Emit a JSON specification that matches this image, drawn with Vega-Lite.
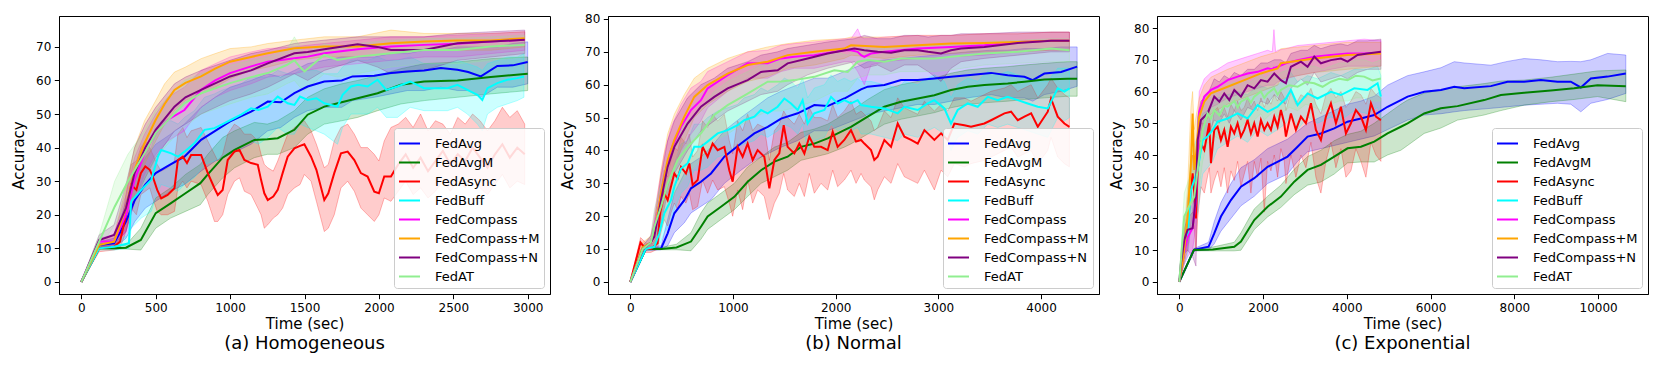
{
"$schema": "https://vega.github.io/schema/vega-lite/v6.json",
"padding": {"left": 11, "top": 12, "right": 14, "bottom": 11},
"background": "white",
"bounds": "flush",
"spacing": 58,
"datasets": {
"a": [
{"s":"FedAvg","t":0,"y":0,"l":0,"h":0},{"s":"FedAvg","t":120,"y":11,"l":10,"h":12},{"s":"FedAvg","t":220,"y":11.5,"l":10,"h":13},{"s":"FedAvg","t":300,"y":18,"l":13,"h":24},{"s":"FedAvg","t":360,"y":24.4,"l":18,"h":31},{"s":"FedAvg","t":430,"y":29,"l":22,"h":37},{"s":"FedAvg","t":500,"y":32.4,"l":24,"h":41},{"s":"FedAvg","t":600,"y":35,"l":27,"h":44},{"s":"FedAvg","t":693,"y":37.3,"l":29,"h":47},{"s":"FedAvg","t":805,"y":42.3,"l":33,"h":52},{"s":"FedAvg","t":900,"y":45,"l":36,"h":55},{"s":"FedAvg","t":1000,"y":47.8,"l":38,"h":58},{"s":"FedAvg","t":1141,"y":50.7,"l":41,"h":60},{"s":"FedAvg","t":1253,"y":53.7,"l":45,"h":62},{"s":"FedAvg","t":1340,"y":53.5,"l":46,"h":61},{"s":"FedAvg","t":1432,"y":56.2,"l":49,"h":63},{"s":"FedAvg","t":1521,"y":58.2,"l":51,"h":65},{"s":"FedAvg","t":1633,"y":59.7,"l":52,"h":66},{"s":"FedAvg","t":1750,"y":60,"l":52,"h":67},{"s":"FedAvg","t":1823,"y":61.2,"l":54,"h":67},{"s":"FedAvg","t":1969,"y":61.4,"l":55,"h":67},{"s":"FedAvg","t":2081,"y":62.2,"l":56,"h":68},{"s":"FedAvg","t":2192,"y":62.7,"l":57,"h":68},{"s":"FedAvg","t":2304,"y":63,"l":57,"h":69},{"s":"FedAvg","t":2416,"y":63.7,"l":58,"h":69},{"s":"FedAvg","t":2528,"y":63.2,"l":57,"h":70},{"s":"FedAvg","t":2600,"y":62.5,"l":57,"h":70},{"s":"FedAvg","t":2685,"y":61.2,"l":55,"h":70},{"s":"FedAvg","t":2796,"y":64.3,"l":58,"h":70},{"s":"FedAvg","t":2900,"y":64.5,"l":58,"h":71},{"s":"FedAvg","t":3000,"y":65.5,"l":59,"h":71.5},
{"s":"FedAvgM","t":0,"y":0,"l":0,"h":0},{"s":"FedAvgM","t":120,"y":10,"l":9.8,"h":10.5},{"s":"FedAvgM","t":220,"y":10,"l":9.8,"h":10.5},{"s":"FedAvgM","t":300,"y":10.2,"l":9.8,"h":11},{"s":"FedAvgM","t":400,"y":12.5,"l":9.5,"h":16},{"s":"FedAvgM","t":500,"y":20.5,"l":16,"h":25},{"s":"FedAvgM","t":600,"y":23.4,"l":19,"h":28},{"s":"FedAvgM","t":700,"y":26.4,"l":21,"h":32},{"s":"FedAvgM","t":800,"y":29.4,"l":23,"h":35},{"s":"FedAvgM","t":850,"y":32,"l":26,"h":38},{"s":"FedAvgM","t":950,"y":37,"l":31,"h":43},{"s":"FedAvgM","t":1030,"y":39.3,"l":34,"h":45},{"s":"FedAvgM","t":1163,"y":42.3,"l":37,"h":47.5},{"s":"FedAvgM","t":1250,"y":42.5,"l":38,"h":47},{"s":"FedAvgM","t":1320,"y":42.8,"l":38,"h":48},{"s":"FedAvgM","t":1432,"y":45.3,"l":40,"h":51},{"s":"FedAvgM","t":1521,"y":49.8,"l":44,"h":55},{"s":"FedAvgM","t":1633,"y":52.2,"l":47,"h":57.5},{"s":"FedAvgM","t":1750,"y":53.5,"l":48,"h":59},{"s":"FedAvgM","t":1857,"y":54.7,"l":49,"h":60},{"s":"FedAvgM","t":1991,"y":56.2,"l":51,"h":61.5},{"s":"FedAvgM","t":2148,"y":58.7,"l":53,"h":63.5},{"s":"FedAvgM","t":2304,"y":59.7,"l":54,"h":65},{"s":"FedAvgM","t":2528,"y":60,"l":55,"h":65.5},{"s":"FedAvgM","t":2752,"y":61,"l":56,"h":66.5},{"s":"FedAvgM","t":3000,"y":62,"l":57,"h":67},
{"s":"FedAsync","t":0,"y":0,"l":0,"h":0},{"s":"FedAsync","t":120,"y":10,"l":9,"h":11},{"s":"FedAsync","t":220,"y":10.5,"l":9.5,"h":12},{"s":"FedAsync","t":260,"y":12,"l":10,"h":14},{"s":"FedAsync","t":300,"y":20,"l":15,"h":26},{"s":"FedAsync","t":335,"y":28.9,"l":22,"h":35},{"s":"FedAsync","t":370,"y":27.4,"l":20,"h":36},{"s":"FedAsync","t":400,"y":32.4,"l":26,"h":40},{"s":"FedAsync","t":430,"y":34.4,"l":27,"h":42},{"s":"FedAsync","t":460,"y":33.4,"l":28,"h":40},{"s":"FedAsync","t":480,"y":31.4,"l":25,"h":38},{"s":"FedAsync","t":510,"y":27.4,"l":21,"h":35},{"s":"FedAsync","t":537,"y":24.9,"l":20,"h":33},{"s":"FedAsync","t":580,"y":25.9,"l":20,"h":34},{"s":"FedAsync","t":626,"y":27.9,"l":21,"h":36},{"s":"FedAsync","t":649,"y":36.3,"l":28,"h":44},{"s":"FedAsync","t":682,"y":37.3,"l":30,"h":46},{"s":"FedAsync","t":710,"y":35.4,"l":28,"h":43},{"s":"FedAsync","t":738,"y":37.8,"l":30,"h":45},{"s":"FedAsync","t":805,"y":37.8,"l":29,"h":46},{"s":"FedAsync","t":850,"y":32.4,"l":24,"h":42},{"s":"FedAsync","t":895,"y":27.9,"l":18,"h":38},{"s":"FedAsync","t":917,"y":25.9,"l":18,"h":36},{"s":"FedAsync","t":950,"y":27.4,"l":20,"h":38},{"s":"FedAsync","t":984,"y":36.3,"l":26,"h":44},{"s":"FedAsync","t":1029,"y":38.8,"l":30,"h":47},{"s":"FedAsync","t":1063,"y":39.3,"l":31,"h":46},{"s":"FedAsync","t":1096,"y":36.3,"l":27,"h":44},{"s":"FedAsync","t":1141,"y":35.4,"l":26,"h":44},{"s":"FedAsync","t":1186,"y":34.9,"l":22,"h":42},{"s":"FedAsync","t":1208,"y":30.4,"l":20,"h":38},{"s":"FedAsync","t":1230,"y":26.4,"l":16,"h":35},{"s":"FedAsync","t":1253,"y":24.4,"l":17,"h":34},{"s":"FedAsync","t":1290,"y":25.4,"l":19,"h":33},{"s":"FedAsync","t":1320,"y":27.4,"l":20,"h":36},{"s":"FedAsync","t":1353,"y":32.4,"l":22,"h":40},{"s":"FedAsync","t":1387,"y":37.3,"l":26,"h":44},{"s":"FedAsync","t":1432,"y":39.8,"l":28,"h":46},{"s":"FedAsync","t":1470,"y":40.5,"l":29,"h":47},{"s":"FedAsync","t":1499,"y":41,"l":32,"h":48},{"s":"FedAsync","t":1544,"y":37.3,"l":30,"h":45},{"s":"FedAsync","t":1580,"y":33.4,"l":24,"h":41},{"s":"FedAsync","t":1633,"y":24.4,"l":15,"h":34},{"s":"FedAsync","t":1660,"y":26.4,"l":16,"h":35},{"s":"FedAsync","t":1700,"y":32.4,"l":20,"h":42},{"s":"FedAsync","t":1745,"y":38.3,"l":28,"h":46},{"s":"FedAsync","t":1790,"y":38.8,"l":30,"h":47},{"s":"FedAsync","t":1835,"y":36.3,"l":27,"h":44},{"s":"FedAsync","t":1879,"y":32.4,"l":22,"h":40},{"s":"FedAsync","t":1924,"y":31.4,"l":20,"h":40},{"s":"FedAsync","t":1969,"y":26.9,"l":18,"h":38},{"s":"FedAsync","t":2000,"y":26.4,"l":20,"h":36},{"s":"FedAsync","t":2036,"y":31.4,"l":25,"h":42},{"s":"FedAsync","t":2081,"y":31.4,"l":24,"h":46},{"s":"FedAsync","t":2130,"y":35,"l":27,"h":47},{"s":"FedAsync","t":2180,"y":38,"l":30,"h":49},{"s":"FedAsync","t":2230,"y":34,"l":26,"h":46},{"s":"FedAsync","t":2280,"y":37,"l":28,"h":50},{"s":"FedAsync","t":2330,"y":33,"l":25,"h":45},{"s":"FedAsync","t":2380,"y":36,"l":27,"h":48},{"s":"FedAsync","t":2430,"y":39,"l":30,"h":47},{"s":"FedAsync","t":2480,"y":35,"l":27,"h":44},{"s":"FedAsync","t":2530,"y":38,"l":30,"h":49},{"s":"FedAsync","t":2580,"y":36,"l":28,"h":47},{"s":"FedAsync","t":2630,"y":40,"l":31,"h":50},{"s":"FedAsync","t":2680,"y":37,"l":28,"h":48},{"s":"FedAsync","t":2730,"y":34,"l":26,"h":45},{"s":"FedAsync","t":2780,"y":38,"l":29,"h":48},{"s":"FedAsync","t":2830,"y":41,"l":32,"h":52},{"s":"FedAsync","t":2880,"y":37,"l":28,"h":49},{"s":"FedAsync","t":2930,"y":40,"l":30,"h":51},{"s":"FedAsync","t":2980,"y":38,"l":29,"h":47},
{"s":"FedBuff","t":0,"y":0,"l":0,"h":0},{"s":"FedBuff","t":120,"y":10,"l":9.5,"h":11},{"s":"FedBuff","t":220,"y":10.5,"l":9.5,"h":12},{"s":"FedBuff","t":320,"y":11.5,"l":10,"h":14},{"s":"FedBuff","t":335,"y":24,"l":16,"h":31},{"s":"FedBuff","t":403,"y":27.4,"l":19,"h":37},{"s":"FedBuff","t":470,"y":30.4,"l":21,"h":40},{"s":"FedBuff","t":515,"y":37.3,"l":27,"h":46},{"s":"FedBuff","t":537,"y":39.3,"l":29,"h":48},{"s":"FedBuff","t":604,"y":38.3,"l":28,"h":48},{"s":"FedBuff","t":650,"y":37.3,"l":27,"h":47},{"s":"FedBuff","t":693,"y":38.8,"l":29,"h":49},{"s":"FedBuff","t":760,"y":41.3,"l":31,"h":51},{"s":"FedBuff","t":828,"y":45.3,"l":35,"h":55},{"s":"FedBuff","t":895,"y":45.8,"l":36,"h":56},{"s":"FedBuff","t":940,"y":46.8,"l":37,"h":57},{"s":"FedBuff","t":1007,"y":48.3,"l":39,"h":58},{"s":"FedBuff","t":1074,"y":49.8,"l":40,"h":59},{"s":"FedBuff","t":1141,"y":51.7,"l":42,"h":61},{"s":"FedBuff","t":1190,"y":51.2,"l":41,"h":61},{"s":"FedBuff","t":1253,"y":52.2,"l":43,"h":61},{"s":"FedBuff","t":1320,"y":55.2,"l":46,"h":63},{"s":"FedBuff","t":1387,"y":53.2,"l":44,"h":62},{"s":"FedBuff","t":1432,"y":52.7,"l":44,"h":62},{"s":"FedBuff","t":1470,"y":55.2,"l":47,"h":63},{"s":"FedBuff","t":1521,"y":54.2,"l":46,"h":63},{"s":"FedBuff","t":1580,"y":54.7,"l":45,"h":63},{"s":"FedBuff","t":1633,"y":53.2,"l":44,"h":62},{"s":"FedBuff","t":1722,"y":52.2,"l":41,"h":62},{"s":"FedBuff","t":1756,"y":55.7,"l":46,"h":64},{"s":"FedBuff","t":1812,"y":58.2,"l":50,"h":66},{"s":"FedBuff","t":1860,"y":58.7,"l":50,"h":66},{"s":"FedBuff","t":1924,"y":58.2,"l":50,"h":66},{"s":"FedBuff","t":1991,"y":60.2,"l":52,"h":67},{"s":"FedBuff","t":2050,"y":57.2,"l":49,"h":66},{"s":"FedBuff","t":2125,"y":58.2,"l":49,"h":66},{"s":"FedBuff","t":2210,"y":59.7,"l":52,"h":67},{"s":"FedBuff","t":2304,"y":57.7,"l":51,"h":65},{"s":"FedBuff","t":2370,"y":57.7,"l":51,"h":65},{"s":"FedBuff","t":2461,"y":57.7,"l":51,"h":65},{"s":"FedBuff","t":2528,"y":58.7,"l":52,"h":66},{"s":"FedBuff","t":2595,"y":57.2,"l":50,"h":65},{"s":"FedBuff","t":2662,"y":55.7,"l":47,"h":64},{"s":"FedBuff","t":2695,"y":54.2,"l":45,"h":63},{"s":"FedBuff","t":2730,"y":57.7,"l":50,"h":65},{"s":"FedBuff","t":2796,"y":59.2,"l":52,"h":66},{"s":"FedBuff","t":2863,"y":60.2,"l":53,"h":67},{"s":"FedBuff","t":2930,"y":60.7,"l":54,"h":67},{"s":"FedBuff","t":2975,"y":61.2,"l":55,"h":68},
{"s":"FedCompass","t":0,"y":0,"l":0,"h":0},{"s":"FedCompass","t":120,"y":12,"l":10,"h":13},{"s":"FedCompass","t":220,"y":12,"l":10.5,"h":14},{"s":"FedCompass","t":300,"y":20,"l":15,"h":26},{"s":"FedCompass","t":358,"y":30.4,"l":24,"h":37},{"s":"FedCompass","t":425,"y":38.3,"l":32,"h":44},{"s":"FedCompass","t":500,"y":44.3,"l":38,"h":50},{"s":"FedCompass","t":582,"y":48.3,"l":42,"h":55},{"s":"FedCompass","t":693,"y":51.2,"l":45,"h":58},{"s":"FedCompass","t":805,"y":57.2,"l":52,"h":63},{"s":"FedCompass","t":900,"y":60,"l":55,"h":65},{"s":"FedCompass","t":1000,"y":62.2,"l":57,"h":67},{"s":"FedCompass","t":1141,"y":64.2,"l":59,"h":68.5},{"s":"FedCompass","t":1253,"y":65.6,"l":61,"h":69.5},{"s":"FedCompass","t":1432,"y":66.6,"l":62,"h":70},{"s":"FedCompass","t":1521,"y":67.1,"l":63,"h":70.5},{"s":"FedCompass","t":1633,"y":68.1,"l":64,"h":71},{"s":"FedCompass","t":1857,"y":69.3,"l":65,"h":72},{"s":"FedCompass","t":2081,"y":70.1,"l":66,"h":73},{"s":"FedCompass","t":2304,"y":70.6,"l":67,"h":73},{"s":"FedCompass","t":2528,"y":70.9,"l":67,"h":73.5},{"s":"FedCompass","t":2752,"y":71.6,"l":68,"h":74},{"s":"FedCompass","t":2980,"y":72.1,"l":69,"h":74.5},
{"s":"FedCompass+M","t":0,"y":0,"l":0,"h":0},{"s":"FedCompass+M","t":120,"y":11,"l":10,"h":12.5},{"s":"FedCompass+M","t":220,"y":12,"l":10.5,"h":14},{"s":"FedCompass+M","t":300,"y":22,"l":16,"h":28},{"s":"FedCompass+M","t":358,"y":33.4,"l":26,"h":40},{"s":"FedCompass+M","t":425,"y":41.3,"l":35,"h":48},{"s":"FedCompass+M","t":500,"y":48.3,"l":42,"h":54},{"s":"FedCompass+M","t":560,"y":53,"l":47,"h":59},{"s":"FedCompass+M","t":626,"y":57.2,"l":51,"h":62.5},{"s":"FedCompass+M","t":700,"y":59.3,"l":54,"h":64},{"s":"FedCompass+M","t":805,"y":61.2,"l":56,"h":66.5},{"s":"FedCompass+M","t":900,"y":63.5,"l":58,"h":68},{"s":"FedCompass+M","t":1000,"y":65.6,"l":60.5,"h":69.5},{"s":"FedCompass+M","t":1141,"y":67,"l":63,"h":70},{"s":"FedCompass+M","t":1253,"y":68.1,"l":64,"h":71},{"s":"FedCompass+M","t":1432,"y":69.6,"l":66,"h":72},{"s":"FedCompass+M","t":1633,"y":70.1,"l":67,"h":73},{"s":"FedCompass+M","t":1857,"y":70.1,"l":67,"h":73},{"s":"FedCompass+M","t":2081,"y":71.1,"l":68,"h":75},{"s":"FedCompass+M","t":2304,"y":71.6,"l":69,"h":74},{"s":"FedCompass+M","t":2528,"y":71.9,"l":69,"h":74},{"s":"FedCompass+M","t":2752,"y":71.9,"l":69,"h":74},{"s":"FedCompass+M","t":2980,"y":72.6,"l":70,"h":74.5},
{"s":"FedCompass+N","t":0,"y":0,"l":0,"h":0},{"s":"FedCompass+N","t":120,"y":12.5,"l":10.5,"h":14},{"s":"FedCompass+N","t":220,"y":14,"l":11,"h":17},{"s":"FedCompass+N","t":300,"y":22,"l":15,"h":29},{"s":"FedCompass+N","t":358,"y":32.4,"l":24,"h":40},{"s":"FedCompass+N","t":430,"y":40,"l":31,"h":47},{"s":"FedCompass+N","t":500,"y":45.3,"l":37,"h":52},{"s":"FedCompass+N","t":626,"y":52.2,"l":45,"h":59},{"s":"FedCompass+N","t":700,"y":55,"l":47,"h":61},{"s":"FedCompass+N","t":805,"y":57.2,"l":50,"h":63},{"s":"FedCompass+N","t":1000,"y":61.2,"l":54,"h":66},{"s":"FedCompass+N","t":1141,"y":63,"l":56,"h":68},{"s":"FedCompass+N","t":1253,"y":65.1,"l":58,"h":69},{"s":"FedCompass+N","t":1432,"y":68.1,"l":62,"h":71},{"s":"FedCompass+N","t":1521,"y":68.5,"l":60,"h":71.5},{"s":"FedCompass+N","t":1633,"y":69.3,"l":63,"h":72},{"s":"FedCompass+N","t":1857,"y":70.8,"l":66,"h":73},{"s":"FedCompass+N","t":1990,"y":70,"l":64,"h":73},{"s":"FedCompass+N","t":2081,"y":69.1,"l":62,"h":73},{"s":"FedCompass+N","t":2304,"y":69.1,"l":63,"h":73},{"s":"FedCompass+N","t":2528,"y":71.1,"l":66,"h":74},{"s":"FedCompass+N","t":2752,"y":71.6,"l":67,"h":74.5},{"s":"FedCompass+N","t":2980,"y":72.1,"l":68,"h":75},
{"s":"FedAT","t":0,"y":0,"l":0,"h":0},{"s":"FedAT","t":120,"y":12,"l":10,"h":14},{"s":"FedAT","t":224,"y":22.4,"l":17,"h":30},{"s":"FedAT","t":313,"y":29.9,"l":22,"h":38},{"s":"FedAT","t":425,"y":38.3,"l":30,"h":45},{"s":"FedAT","t":500,"y":44.3,"l":37,"h":51},{"s":"FedAT","t":600,"y":49,"l":42,"h":56},{"s":"FedAT","t":693,"y":53.2,"l":46,"h":60},{"s":"FedAT","t":805,"y":56.2,"l":50,"h":62},{"s":"FedAT","t":1000,"y":59.2,"l":53,"h":64.5},{"s":"FedAT","t":1141,"y":61,"l":55,"h":66},{"s":"FedAT","t":1253,"y":62.2,"l":56,"h":67},{"s":"FedAT","t":1380,"y":64.6,"l":59,"h":69},{"s":"FedAT","t":1432,"y":66,"l":60,"h":73},{"s":"FedAT","t":1470,"y":64,"l":58,"h":70},{"s":"FedAT","t":1500,"y":62.7,"l":57,"h":68},{"s":"FedAT","t":1633,"y":67.6,"l":62,"h":71},{"s":"FedAT","t":1722,"y":66.1,"l":61,"h":70},{"s":"FedAT","t":1857,"y":67.1,"l":62,"h":71},{"s":"FedAT","t":2081,"y":68.1,"l":64,"h":72},{"s":"FedAT","t":2304,"y":69.1,"l":65,"h":72.5},{"s":"FedAT","t":2528,"y":69.1,"l":65,"h":72.5},{"s":"FedAT","t":2752,"y":70.1,"l":66,"h":73},{"s":"FedAT","t":2980,"y":70.6,"l":67,"h":73.5}
],
"b": [
{"s":"FedAvg","t":0,"y":0,"l":0,"h":0},{"s":"FedAvg","t":150,"y":10,"l":9.5,"h":10.5},{"s":"FedAvg","t":300,"y":10.2,"l":9.8,"h":11},{"s":"FedAvg","t":364,"y":14.8,"l":11,"h":19},{"s":"FedAvg","t":429,"y":20.9,"l":15,"h":27},{"s":"FedAvg","t":526,"y":24.9,"l":18,"h":33},{"s":"FedAvg","t":591,"y":28.5,"l":21,"h":36},{"s":"FedAvg","t":688,"y":30.5,"l":23,"h":38},{"s":"FedAvg","t":786,"y":33,"l":25,"h":41},{"s":"FedAvg","t":916,"y":38.1,"l":30,"h":46},{"s":"FedAvg","t":1078,"y":42.1,"l":34,"h":50},{"s":"FedAvg","t":1208,"y":45.2,"l":37,"h":53},{"s":"FedAvg","t":1338,"y":47.2,"l":39,"h":56},{"s":"FedAvg","t":1468,"y":49.7,"l":41,"h":58},{"s":"FedAvg","t":1630,"y":51.3,"l":43,"h":60},{"s":"FedAvg","t":1792,"y":53.8,"l":46,"h":62},{"s":"FedAvg","t":1922,"y":53.5,"l":46,"h":62},{"s":"FedAvg","t":2084,"y":55.8,"l":48,"h":64},{"s":"FedAvg","t":2247,"y":58.6,"l":50,"h":66},{"s":"FedAvg","t":2312,"y":59.4,"l":51,"h":67},{"s":"FedAvg","t":2474,"y":59.9,"l":52,"h":67.5},{"s":"FedAvg","t":2636,"y":61.4,"l":53,"h":68},{"s":"FedAvg","t":2799,"y":61.4,"l":54,"h":68.5},{"s":"FedAvg","t":2961,"y":61.9,"l":54,"h":69},{"s":"FedAvg","t":3123,"y":62.4,"l":55,"h":69.5},{"s":"FedAvg","t":3286,"y":62.9,"l":56,"h":70},{"s":"FedAvg","t":3513,"y":63.6,"l":57,"h":70.5},{"s":"FedAvg","t":3675,"y":62.9,"l":56,"h":70.5},{"s":"FedAvg","t":3838,"y":62.4,"l":56,"h":71},{"s":"FedAvg","t":3919,"y":61.4,"l":55,"h":71},{"s":"FedAvg","t":4032,"y":63.4,"l":57,"h":71},{"s":"FedAvg","t":4195,"y":63.9,"l":58,"h":71.5},{"s":"FedAvg","t":4351,"y":65.5,"l":59.5,"h":71.5},
{"s":"FedAvgM","t":0,"y":0,"l":0,"h":0},{"s":"FedAvgM","t":150,"y":10,"l":9.8,"h":10.5},{"s":"FedAvgM","t":300,"y":10,"l":9.8,"h":10.5},{"s":"FedAvgM","t":450,"y":10.5,"l":9.8,"h":11.5},{"s":"FedAvgM","t":591,"y":12.3,"l":9.5,"h":15},{"s":"FedAvgM","t":688,"y":16.8,"l":13,"h":21},{"s":"FedAvgM","t":753,"y":19.9,"l":16,"h":24},{"s":"FedAvgM","t":883,"y":22.9,"l":19,"h":27},{"s":"FedAvgM","t":1013,"y":25.9,"l":22,"h":30},{"s":"FedAvgM","t":1143,"y":30.5,"l":26,"h":35},{"s":"FedAvgM","t":1273,"y":34,"l":30,"h":38},{"s":"FedAvgM","t":1403,"y":36.6,"l":32,"h":41},{"s":"FedAvgM","t":1532,"y":38.1,"l":34,"h":42.5},{"s":"FedAvgM","t":1662,"y":41.1,"l":37,"h":45.5},{"s":"FedAvgM","t":1792,"y":42.1,"l":38,"h":46.5},{"s":"FedAvgM","t":1922,"y":43.7,"l":39,"h":48},{"s":"FedAvgM","t":2084,"y":46.2,"l":41,"h":51},{"s":"FedAvgM","t":2149,"y":47.2,"l":42,"h":52},{"s":"FedAvgM","t":2312,"y":50.3,"l":45,"h":55.5},{"s":"FedAvgM","t":2474,"y":53.3,"l":48,"h":58.5},{"s":"FedAvgM","t":2636,"y":54.8,"l":49.5,"h":60},{"s":"FedAvgM","t":2799,"y":55.8,"l":50.5,"h":61},{"s":"FedAvgM","t":2961,"y":56.8,"l":51.5,"h":62},{"s":"FedAvgM","t":3123,"y":58.4,"l":53,"h":63.5},{"s":"FedAvgM","t":3286,"y":59.4,"l":54,"h":64.5},{"s":"FedAvgM","t":3448,"y":59.9,"l":54.5,"h":65},{"s":"FedAvgM","t":3675,"y":60.4,"l":55,"h":65.5},{"s":"FedAvgM","t":3838,"y":60.9,"l":55.5,"h":66},{"s":"FedAvgM","t":4032,"y":61.6,"l":56,"h":66.5},{"s":"FedAvgM","t":4260,"y":61.8,"l":56.5,"h":67},{"s":"FedAvgM","t":4351,"y":61.8,"l":56.5,"h":67},
{"s":"FedAsync","t":0,"y":0,"l":0,"h":0},{"s":"FedAsync","t":100,"y":12,"l":10,"h":13.5},{"s":"FedAsync","t":150,"y":10,"l":9,"h":12},{"s":"FedAsync","t":200,"y":10,"l":9,"h":11},{"s":"FedAsync","t":266,"y":11.8,"l":10,"h":14},{"s":"FedAsync","t":290,"y":20.9,"l":14,"h":27},{"s":"FedAsync","t":331,"y":27,"l":19,"h":34},{"s":"FedAsync","t":364,"y":24.9,"l":17,"h":32},{"s":"FedAsync","t":396,"y":29,"l":21,"h":37},{"s":"FedAsync","t":429,"y":33,"l":24,"h":41},{"s":"FedAsync","t":461,"y":31.5,"l":22,"h":40},{"s":"FedAsync","t":494,"y":35,"l":26,"h":44},{"s":"FedAsync","t":542,"y":33,"l":24,"h":42},{"s":"FedAsync","t":575,"y":36.1,"l":27,"h":45},{"s":"FedAsync","t":607,"y":29.5,"l":22,"h":38},{"s":"FedAsync","t":656,"y":31,"l":23,"h":40},{"s":"FedAsync","t":704,"y":41.1,"l":31,"h":49},{"s":"FedAsync","t":753,"y":38.1,"l":27,"h":47},{"s":"FedAsync","t":802,"y":42.1,"l":31,"h":51},{"s":"FedAsync","t":851,"y":40.1,"l":28,"h":49},{"s":"FedAsync","t":916,"y":41.1,"l":29,"h":51},{"s":"FedAsync","t":964,"y":34,"l":24,"h":43},{"s":"FedAsync","t":997,"y":30.5,"l":20,"h":39},{"s":"FedAsync","t":1045,"y":41.1,"l":28,"h":49},{"s":"FedAsync","t":1094,"y":38.1,"l":22,"h":46},{"s":"FedAsync","t":1143,"y":42.1,"l":31,"h":51},{"s":"FedAsync","t":1192,"y":37.1,"l":24,"h":46},{"s":"FedAsync","t":1240,"y":40.1,"l":28,"h":48},{"s":"FedAsync","t":1305,"y":38.1,"l":26,"h":47},{"s":"FedAsync","t":1354,"y":28.5,"l":19,"h":37},{"s":"FedAsync","t":1403,"y":37.1,"l":24,"h":46},{"s":"FedAsync","t":1451,"y":39.1,"l":27,"h":48},{"s":"FedAsync","t":1494,"y":47.7,"l":33,"h":52},{"s":"FedAsync","t":1532,"y":41.1,"l":28,"h":50},{"s":"FedAsync","t":1597,"y":39.1,"l":26,"h":48},{"s":"FedAsync","t":1646,"y":42.1,"l":30,"h":51},{"s":"FedAsync","t":1695,"y":39.1,"l":26,"h":48},{"s":"FedAsync","t":1743,"y":44.2,"l":33,"h":53},{"s":"FedAsync","t":1792,"y":41.1,"l":27,"h":50},{"s":"FedAsync","t":1857,"y":41.1,"l":30,"h":50},{"s":"FedAsync","t":1922,"y":40.1,"l":28,"h":49},{"s":"FedAsync","t":1971,"y":45.7,"l":34,"h":54},{"s":"FedAsync","t":2019,"y":41.1,"l":29,"h":50},{"s":"FedAsync","t":2084,"y":43.2,"l":31,"h":52},{"s":"FedAsync","t":2149,"y":46.2,"l":34,"h":55},{"s":"FedAsync","t":2198,"y":42.7,"l":30,"h":51},{"s":"FedAsync","t":2247,"y":43.2,"l":33,"h":52},{"s":"FedAsync","t":2279,"y":42.1,"l":31,"h":51},{"s":"FedAsync","t":2344,"y":40.1,"l":29,"h":49},{"s":"FedAsync","t":2376,"y":37.1,"l":25,"h":46},{"s":"FedAsync","t":2409,"y":38.1,"l":28,"h":47},{"s":"FedAsync","t":2474,"y":43.2,"l":32,"h":52},{"s":"FedAsync","t":2539,"y":41.1,"l":30,"h":50},{"s":"FedAsync","t":2604,"y":48.2,"l":36,"h":56},{"s":"FedAsync","t":2669,"y":44.2,"l":32,"h":53},{"s":"FedAsync","t":2734,"y":43.2,"l":31,"h":52},{"s":"FedAsync","t":2799,"y":42.1,"l":30,"h":51},{"s":"FedAsync","t":2864,"y":46.2,"l":34,"h":55},{"s":"FedAsync","t":2961,"y":43.2,"l":28,"h":52},{"s":"FedAsync","t":3026,"y":45.2,"l":34,"h":54},{"s":"FedAsync","t":3091,"y":43.2,"l":32,"h":52},{"s":"FedAsync","t":3156,"y":48.2,"l":36,"h":56},{"s":"FedAsync","t":3253,"y":47.7,"l":35,"h":56},{"s":"FedAsync","t":3318,"y":47.2,"l":36,"h":55},{"s":"FedAsync","t":3448,"y":48.2,"l":37,"h":57},{"s":"FedAsync","t":3513,"y":49.2,"l":38,"h":58},{"s":"FedAsync","t":3643,"y":51.3,"l":40,"h":59},{"s":"FedAsync","t":3708,"y":51.8,"l":41,"h":60},{"s":"FedAsync","t":3773,"y":49.2,"l":38,"h":58},{"s":"FedAsync","t":3838,"y":50.3,"l":39,"h":59},{"s":"FedAsync","t":3903,"y":51.3,"l":40,"h":60},{"s":"FedAsync","t":3968,"y":47.2,"l":36,"h":56},{"s":"FedAsync","t":4065,"y":51.8,"l":40,"h":60},{"s":"FedAsync","t":4097,"y":55.8,"l":44,"h":62},{"s":"FedAsync","t":4162,"y":50.3,"l":38,"h":59},{"s":"FedAsync","t":4227,"y":48.2,"l":36,"h":57},{"s":"FedAsync","t":4276,"y":47.2,"l":35,"h":56},
{"s":"FedBuff","t":0,"y":0,"l":0,"h":0},{"s":"FedBuff","t":150,"y":10,"l":9.5,"h":10.5},{"s":"FedBuff","t":234,"y":10.7,"l":9.8,"h":12},{"s":"FedBuff","t":282,"y":14.8,"l":11,"h":19},{"s":"FedBuff","t":331,"y":20.9,"l":15,"h":27},{"s":"FedBuff","t":396,"y":24.9,"l":18,"h":32},{"s":"FedBuff","t":429,"y":29,"l":22,"h":36},{"s":"FedBuff","t":494,"y":34.5,"l":27,"h":42},{"s":"FedBuff","t":558,"y":36.1,"l":29,"h":43},{"s":"FedBuff","t":623,"y":41.1,"l":34,"h":48},{"s":"FedBuff","t":688,"y":41.1,"l":34,"h":48},{"s":"FedBuff","t":753,"y":42.7,"l":35,"h":50},{"s":"FedBuff","t":851,"y":45.2,"l":38,"h":52},{"s":"FedBuff","t":948,"y":46.2,"l":39,"h":53},{"s":"FedBuff","t":1045,"y":47.7,"l":41,"h":54},{"s":"FedBuff","t":1110,"y":49.2,"l":42,"h":56},{"s":"FedBuff","t":1208,"y":50.3,"l":43,"h":57},{"s":"FedBuff","t":1273,"y":52.3,"l":45,"h":59},{"s":"FedBuff","t":1338,"y":51.3,"l":44,"h":58},{"s":"FedBuff","t":1435,"y":53.3,"l":46,"h":60},{"s":"FedBuff","t":1500,"y":55.8,"l":48,"h":62},{"s":"FedBuff","t":1565,"y":54.3,"l":47,"h":61},{"s":"FedBuff","t":1630,"y":52.3,"l":45,"h":59},{"s":"FedBuff","t":1678,"y":55.3,"l":48,"h":62},{"s":"FedBuff","t":1727,"y":48.2,"l":40,"h":56},{"s":"FedBuff","t":1792,"y":51.3,"l":43,"h":59},{"s":"FedBuff","t":1890,"y":52.3,"l":44,"h":60},{"s":"FedBuff","t":1955,"y":56.3,"l":48,"h":63},{"s":"FedBuff","t":2019,"y":54.3,"l":46,"h":61},{"s":"FedBuff","t":2084,"y":55.3,"l":47,"h":62},{"s":"FedBuff","t":2149,"y":54.3,"l":46,"h":61},{"s":"FedBuff","t":2214,"y":55.3,"l":47,"h":62},{"s":"FedBuff","t":2247,"y":53.8,"l":45,"h":61},{"s":"FedBuff","t":2344,"y":53.3,"l":45,"h":61},{"s":"FedBuff","t":2474,"y":52.8,"l":44,"h":60},{"s":"FedBuff","t":2604,"y":51.3,"l":43,"h":59},{"s":"FedBuff","t":2669,"y":53.3,"l":45,"h":61},{"s":"FedBuff","t":2799,"y":52.3,"l":44,"h":60},{"s":"FedBuff","t":2896,"y":54.3,"l":46,"h":62},{"s":"FedBuff","t":2961,"y":55.3,"l":47,"h":63},{"s":"FedBuff","t":3058,"y":52.8,"l":45,"h":61},{"s":"FedBuff","t":3123,"y":48.2,"l":40,"h":56},{"s":"FedBuff","t":3188,"y":52.3,"l":44,"h":60},{"s":"FedBuff","t":3286,"y":54.3,"l":46,"h":62},{"s":"FedBuff","t":3383,"y":53.3,"l":45,"h":61},{"s":"FedBuff","t":3481,"y":56.3,"l":48,"h":64},{"s":"FedBuff","t":3578,"y":55.3,"l":47,"h":63},{"s":"FedBuff","t":3675,"y":56.3,"l":48,"h":64},{"s":"FedBuff","t":3773,"y":55.3,"l":47,"h":63},{"s":"FedBuff","t":3870,"y":54.3,"l":46,"h":62},{"s":"FedBuff","t":3968,"y":53.3,"l":45,"h":61},{"s":"FedBuff","t":4065,"y":52.8,"l":44,"h":61},{"s":"FedBuff","t":4162,"y":58.9,"l":50,"h":65},{"s":"FedBuff","t":4227,"y":57.9,"l":49,"h":65},{"s":"FedBuff","t":4276,"y":58.9,"l":50,"h":65},
{"s":"FedCompass","t":0,"y":0,"l":0,"h":0},{"s":"FedCompass","t":120,"y":10,"l":9.5,"h":11},{"s":"FedCompass","t":200,"y":12,"l":10,"h":14},{"s":"FedCompass","t":266,"y":20.9,"l":15,"h":27},{"s":"FedCompass","t":331,"y":32,"l":25,"h":39},{"s":"FedCompass","t":396,"y":40.1,"l":33,"h":47},{"s":"FedCompass","t":494,"y":47.2,"l":40,"h":54},{"s":"FedCompass","t":591,"y":52.3,"l":45,"h":59},{"s":"FedCompass","t":688,"y":55.3,"l":49,"h":61},{"s":"FedCompass","t":753,"y":58.9,"l":53,"h":64},{"s":"FedCompass","t":948,"y":62.9,"l":58,"h":67},{"s":"FedCompass","t":1143,"y":66.5,"l":62,"h":70},{"s":"FedCompass","t":1338,"y":66.5,"l":62,"h":70.5},{"s":"FedCompass","t":1468,"y":68,"l":64,"h":72},{"s":"FedCompass","t":1597,"y":68.5,"l":65,"h":72.5},{"s":"FedCompass","t":1792,"y":69,"l":65,"h":73},{"s":"FedCompass","t":2084,"y":70.5,"l":67,"h":74},{"s":"FedCompass","t":2149,"y":70.5,"l":67,"h":74},{"s":"FedCompass","t":2214,"y":70,"l":64,"h":77},{"s":"FedCompass","t":2247,"y":69,"l":62,"h":74.5},{"s":"FedCompass","t":2279,"y":68.5,"l":60,"h":74},{"s":"FedCompass","t":2344,"y":69.5,"l":66,"h":74},{"s":"FedCompass","t":2474,"y":70,"l":67,"h":74.5},{"s":"FedCompass","t":2799,"y":71,"l":68,"h":75},{"s":"FedCompass","t":3123,"y":71.5,"l":68.5,"h":75},{"s":"FedCompass","t":3448,"y":72,"l":69,"h":75.5},{"s":"FedCompass","t":3773,"y":73,"l":70,"h":75.5},{"s":"FedCompass","t":4097,"y":73.4,"l":70.5,"h":76},{"s":"FedCompass","t":4276,"y":73.4,"l":70.5,"h":76},
{"s":"FedCompass+M","t":0,"y":0,"l":0,"h":0},{"s":"FedCompass+M","t":120,"y":10.5,"l":9.5,"h":12},{"s":"FedCompass+M","t":200,"y":12,"l":10,"h":14},{"s":"FedCompass+M","t":234,"y":14.8,"l":11,"h":19},{"s":"FedCompass+M","t":299,"y":27,"l":20,"h":34},{"s":"FedCompass+M","t":364,"y":37.1,"l":29,"h":45},{"s":"FedCompass+M","t":429,"y":43.2,"l":35,"h":51},{"s":"FedCompass+M","t":526,"y":50.3,"l":43,"h":57},{"s":"FedCompass+M","t":623,"y":56.3,"l":50,"h":62},{"s":"FedCompass+M","t":753,"y":59.9,"l":54,"h":65},{"s":"FedCompass+M","t":948,"y":63.4,"l":58,"h":68},{"s":"FedCompass+M","t":1143,"y":66,"l":61,"h":70},{"s":"FedCompass+M","t":1338,"y":67,"l":62.5,"h":71.5},{"s":"FedCompass+M","t":1532,"y":69,"l":65,"h":72.5},{"s":"FedCompass+M","t":1792,"y":70,"l":66,"h":73.5},{"s":"FedCompass+M","t":2084,"y":71,"l":68,"h":74},{"s":"FedCompass+M","t":2149,"y":72,"l":69,"h":74.5},{"s":"FedCompass+M","t":2474,"y":71.5,"l":68,"h":74.5},{"s":"FedCompass+M","t":2799,"y":72,"l":69,"h":75},{"s":"FedCompass+M","t":3123,"y":72.5,"l":69.5,"h":75},{"s":"FedCompass+M","t":3448,"y":72.7,"l":70,"h":75.5},{"s":"FedCompass+M","t":3773,"y":73,"l":70,"h":75.5},{"s":"FedCompass+M","t":4097,"y":73.4,"l":70.5,"h":76},{"s":"FedCompass+M","t":4276,"y":73.4,"l":70.5,"h":76},
{"s":"FedCompass+N","t":0,"y":0,"l":0,"h":0},{"s":"FedCompass+N","t":120,"y":10,"l":9.5,"h":11},{"s":"FedCompass+N","t":200,"y":12,"l":10,"h":14},{"s":"FedCompass+N","t":234,"y":13.8,"l":10,"h":18},{"s":"FedCompass+N","t":299,"y":24.9,"l":18,"h":32},{"s":"FedCompass+N","t":364,"y":35,"l":27,"h":43},{"s":"FedCompass+N","t":429,"y":41.1,"l":33,"h":49},{"s":"FedCompass+N","t":558,"y":48.2,"l":40,"h":56},{"s":"FedCompass+N","t":688,"y":53.3,"l":46,"h":60},{"s":"FedCompass+N","t":818,"y":56.3,"l":49,"h":62},{"s":"FedCompass+N","t":948,"y":58.9,"l":52,"h":65},{"s":"FedCompass+N","t":1143,"y":61.4,"l":55,"h":67},{"s":"FedCompass+N","t":1273,"y":63.9,"l":57,"h":69},{"s":"FedCompass+N","t":1435,"y":64.4,"l":58,"h":70},{"s":"FedCompass+N","t":1532,"y":66.5,"l":60,"h":71},{"s":"FedCompass+N","t":1727,"y":68,"l":63,"h":72},{"s":"FedCompass+N","t":1922,"y":69.5,"l":65,"h":73},{"s":"FedCompass+N","t":2182,"y":71,"l":67,"h":74},{"s":"FedCompass+N","t":2279,"y":70.5,"l":65,"h":75},{"s":"FedCompass+N","t":2409,"y":70,"l":66,"h":74},{"s":"FedCompass+N","t":2539,"y":69.7,"l":64,"h":74},{"s":"FedCompass+N","t":2669,"y":70.5,"l":66,"h":75},{"s":"FedCompass+N","t":2799,"y":70.5,"l":66,"h":75},{"s":"FedCompass+N","t":2900,"y":70,"l":64,"h":74.5},{"s":"FedCompass+N","t":3026,"y":69.5,"l":61,"h":75},{"s":"FedCompass+N","t":3123,"y":70.5,"l":65,"h":75},{"s":"FedCompass+N","t":3221,"y":71,"l":67,"h":75.5},{"s":"FedCompass+N","t":3448,"y":71.5,"l":68,"h":75.5},{"s":"FedCompass+N","t":3773,"y":72.7,"l":69,"h":76},{"s":"FedCompass+N","t":4097,"y":73.4,"l":70,"h":76},{"s":"FedCompass+N","t":4276,"y":73.4,"l":70,"h":76},
{"s":"FedAT","t":0,"y":0,"l":0,"h":0},{"s":"FedAT","t":120,"y":10,"l":9.5,"h":11},{"s":"FedAT","t":200,"y":12,"l":10,"h":14},{"s":"FedAT","t":234,"y":16.8,"l":12,"h":22},{"s":"FedAT","t":299,"y":22.9,"l":16,"h":30},{"s":"FedAT","t":364,"y":30,"l":22,"h":38},{"s":"FedAT","t":461,"y":37.1,"l":29,"h":45},{"s":"FedAT","t":558,"y":41.1,"l":33,"h":49},{"s":"FedAT","t":688,"y":45.2,"l":37,"h":53},{"s":"FedAT","t":818,"y":50.8,"l":43,"h":58},{"s":"FedAT","t":948,"y":53.8,"l":45,"h":61},{"s":"FedAT","t":1143,"y":57.3,"l":49,"h":64},{"s":"FedAT","t":1338,"y":60.9,"l":52,"h":67},{"s":"FedAT","t":1468,"y":61,"l":52,"h":67},{"s":"FedAT","t":1597,"y":61.4,"l":53,"h":68},{"s":"FedAT","t":1792,"y":62.4,"l":55,"h":69},{"s":"FedAT","t":1987,"y":64.4,"l":58,"h":70},{"s":"FedAT","t":2117,"y":63.9,"l":58,"h":69},{"s":"FedAT","t":2214,"y":67,"l":62,"h":71},{"s":"FedAT","t":2312,"y":67.5,"l":63,"h":71},{"s":"FedAT","t":2474,"y":67,"l":63,"h":71},{"s":"FedAT","t":2636,"y":68,"l":64,"h":72},{"s":"FedAT","t":2961,"y":68,"l":64,"h":72},{"s":"FedAT","t":3123,"y":68.5,"l":64.5,"h":72},{"s":"FedAT","t":3448,"y":69.5,"l":66,"h":73},{"s":"FedAT","t":3773,"y":70,"l":66.5,"h":73.5},{"s":"FedAT","t":4097,"y":71,"l":67,"h":74},{"s":"FedAT","t":4276,"y":70.5,"l":67,"h":74}
],
"c": [
{"s":"FedAvg","t":0,"y":0,"l":0,"h":0},{"s":"FedAvg","t":350,"y":10.1,"l":9.8,"h":10.5},{"s":"FedAvg","t":700,"y":11.1,"l":10,"h":12.5},{"s":"FedAvg","t":835,"y":15.3,"l":12,"h":19},{"s":"FedAvg","t":994,"y":20.6,"l":16,"h":25},{"s":"FedAvg","t":1233,"y":25.8,"l":20,"h":31},{"s":"FedAvg","t":1472,"y":30,"l":24,"h":36},{"s":"FedAvg","t":1790,"y":32.7,"l":27,"h":38.5},{"s":"FedAvg","t":2108,"y":36.3,"l":31,"h":42},{"s":"FedAvg","t":2426,"y":38.4,"l":33,"h":44},{"s":"FedAvg","t":2585,"y":39.5,"l":34,"h":45},{"s":"FedAvg","t":2824,"y":42.6,"l":38,"h":47.5},{"s":"FedAvg","t":3063,"y":45.8,"l":41,"h":50},{"s":"FedAvg","t":3381,"y":46.8,"l":42,"h":52},{"s":"FedAvg","t":3699,"y":48.4,"l":43,"h":54},{"s":"FedAvg","t":4017,"y":50.5,"l":44,"h":56},{"s":"FedAvg","t":4336,"y":51.5,"l":45,"h":57},{"s":"FedAvg","t":4654,"y":52.6,"l":46,"h":58.5},{"s":"FedAvg","t":4972,"y":55.2,"l":48,"h":62},{"s":"FedAvg","t":5290,"y":57.3,"l":50,"h":64},{"s":"FedAvg","t":5450,"y":58.4,"l":51,"h":65},{"s":"FedAvg","t":5847,"y":59.9,"l":52.6,"h":66.2},{"s":"FedAvg","t":6245,"y":60.5,"l":53,"h":67.5},{"s":"FedAvg","t":6565,"y":61.5,"l":53.6,"h":69.4},{"s":"FedAvg","t":6802,"y":61,"l":54,"h":69},{"s":"FedAvg","t":7438,"y":61.7,"l":54.7,"h":68.3},{"s":"FedAvg","t":7836,"y":63.1,"l":55.2,"h":69.5},{"s":"FedAvg","t":8234,"y":63.1,"l":55.7,"h":70.4},{"s":"FedAvg","t":8632,"y":63.6,"l":56,"h":70},{"s":"FedAvg","t":9029,"y":63.1,"l":56.3,"h":69.4},{"s":"FedAvg","t":9347,"y":63.1,"l":56,"h":69.5},{"s":"FedAvg","t":9586,"y":61.3,"l":53.6,"h":69.4},{"s":"FedAvg","t":9825,"y":64.1,"l":56.3,"h":70},{"s":"FedAvg","t":10223,"y":64.7,"l":57.5,"h":72},{"s":"FedAvg","t":10660,"y":65.7,"l":59.4,"h":71.5},
{"s":"FedAvgM","t":0,"y":0,"l":0,"h":0},{"s":"FedAvgM","t":350,"y":10.1,"l":9.8,"h":10.5},{"s":"FedAvgM","t":800,"y":10.2,"l":9.8,"h":11},{"s":"FedAvgM","t":1313,"y":11.1,"l":9.8,"h":12.5},{"s":"FedAvgM","t":1472,"y":12.7,"l":10,"h":15.5},{"s":"FedAvgM","t":1790,"y":19.5,"l":16.5,"h":23},{"s":"FedAvgM","t":2108,"y":23.7,"l":20.5,"h":27},{"s":"FedAvgM","t":2426,"y":26.9,"l":23.5,"h":30.5},{"s":"FedAvgM","t":2745,"y":31.6,"l":27.5,"h":35.5},{"s":"FedAvgM","t":3063,"y":35.3,"l":30.5,"h":39.5},{"s":"FedAvgM","t":3381,"y":36.9,"l":31.5,"h":41.5},{"s":"FedAvgM","t":3699,"y":39.5,"l":34,"h":44.5},{"s":"FedAvgM","t":4017,"y":42.1,"l":37.5,"h":46.5},{"s":"FedAvgM","t":4336,"y":42.6,"l":37.8,"h":47.5},{"s":"FedAvgM","t":4654,"y":44.2,"l":37.8,"h":50},{"s":"FedAvgM","t":4972,"y":46.8,"l":40,"h":53},{"s":"FedAvgM","t":5290,"y":48.9,"l":41.5,"h":56},{"s":"FedAvgM","t":5450,"y":50,"l":43,"h":57.3},{"s":"FedAvgM","t":5847,"y":53.1,"l":46.8,"h":59.5},{"s":"FedAvgM","t":6245,"y":54.7,"l":48.5,"h":60.5},{"s":"FedAvgM","t":6643,"y":55.4,"l":51,"h":61.5},{"s":"FedAvgM","t":7279,"y":57.3,"l":52.6,"h":62.5},{"s":"FedAvgM","t":7677,"y":58.9,"l":54,"h":63.3},{"s":"FedAvgM","t":8234,"y":59.6,"l":55.7,"h":63.6},{"s":"FedAvgM","t":8870,"y":60.3,"l":56.8,"h":64.5},{"s":"FedAvgM","t":9427,"y":61,"l":57.5,"h":65.5},{"s":"FedAvgM","t":9984,"y":62,"l":58.4,"h":66.5},{"s":"FedAvgM","t":10660,"y":61.7,"l":56.8,"h":66.8},
{"s":"FedAsync","t":0,"y":0,"l":0,"h":0},{"s":"FedAsync","t":100,"y":8,"l":5,"h":12},{"s":"FedAsync","t":199,"y":18,"l":10,"h":26},{"s":"FedAsync","t":250,"y":24.8,"l":15,"h":33},{"s":"FedAsync","t":318,"y":34.2,"l":22,"h":40},{"s":"FedAsync","t":358,"y":28,"l":18,"h":38},{"s":"FedAsync","t":398,"y":20,"l":10,"h":32},{"s":"FedAsync","t":438,"y":35.3,"l":20,"h":42},{"s":"FedAsync","t":517,"y":43.7,"l":30,"h":50},{"s":"FedAsync","t":597,"y":41.6,"l":28,"h":50},{"s":"FedAsync","t":716,"y":50,"l":36,"h":55},{"s":"FedAsync","t":756,"y":37.4,"l":28,"h":47},{"s":"FedAsync","t":835,"y":47.9,"l":32,"h":54},{"s":"FedAsync","t":915,"y":48.9,"l":35,"h":55},{"s":"FedAsync","t":994,"y":44.7,"l":30,"h":52},{"s":"FedAsync","t":1074,"y":47.9,"l":36,"h":55},{"s":"FedAsync","t":1154,"y":42.6,"l":28,"h":52},{"s":"FedAsync","t":1233,"y":48.9,"l":35,"h":56},{"s":"FedAsync","t":1313,"y":46.8,"l":32,"h":54},{"s":"FedAsync","t":1392,"y":50,"l":38,"h":57},{"s":"FedAsync","t":1472,"y":45.8,"l":30,"h":54},{"s":"FedAsync","t":1551,"y":47.9,"l":34,"h":55},{"s":"FedAsync","t":1631,"y":51,"l":38,"h":58},{"s":"FedAsync","t":1710,"y":46.8,"l":28,"h":55},{"s":"FedAsync","t":1790,"y":50,"l":38,"h":57},{"s":"FedAsync","t":1870,"y":45.8,"l":33,"h":54},{"s":"FedAsync","t":1949,"y":51,"l":39,"h":58},{"s":"FedAsync","t":2029,"y":47.9,"l":22,"h":55},{"s":"FedAsync","t":2108,"y":50,"l":38,"h":58},{"s":"FedAsync","t":2188,"y":47.9,"l":35,"h":56},{"s":"FedAsync","t":2267,"y":52.1,"l":40,"h":59},{"s":"FedAsync","t":2347,"y":48.9,"l":33,"h":57},{"s":"FedAsync","t":2426,"y":54.2,"l":42,"h":60},{"s":"FedAsync","t":2506,"y":50,"l":38,"h":58},{"s":"FedAsync","t":2546,"y":45.8,"l":31,"h":54},{"s":"FedAsync","t":2665,"y":53.1,"l":40,"h":60},{"s":"FedAsync","t":2784,"y":47.9,"l":33,"h":56},{"s":"FedAsync","t":2904,"y":52.1,"l":40,"h":59},{"s":"FedAsync","t":3023,"y":50,"l":36,"h":58},{"s":"FedAsync","t":3143,"y":56.3,"l":44,"h":61},{"s":"FedAsync","t":3262,"y":47.9,"l":33,"h":56},{"s":"FedAsync","t":3381,"y":44.7,"l":28,"h":53},{"s":"FedAsync","t":3501,"y":52.1,"l":38,"h":59},{"s":"FedAsync","t":3620,"y":56.3,"l":44,"h":61},{"s":"FedAsync","t":3739,"y":50,"l":36,"h":58},{"s":"FedAsync","t":3858,"y":55.2,"l":42,"h":60},{"s":"FedAsync","t":3978,"y":46.8,"l":33,"h":55},{"s":"FedAsync","t":4097,"y":50,"l":35,"h":57},{"s":"FedAsync","t":4216,"y":54.2,"l":42,"h":60},{"s":"FedAsync","t":4336,"y":52.1,"l":38,"h":59},{"s":"FedAsync","t":4455,"y":47.9,"l":33,"h":56},{"s":"FedAsync","t":4575,"y":56.3,"l":44,"h":61},{"s":"FedAsync","t":4694,"y":52.1,"l":40,"h":59},{"s":"FedAsync","t":4813,"y":51,"l":38,"h":58},
{"s":"FedBuff","t":0,"y":0,"l":0,"h":0},{"s":"FedBuff","t":100,"y":8,"l":5,"h":12},{"s":"FedBuff","t":199,"y":14.3,"l":8,"h":22},{"s":"FedBuff","t":278,"y":29,"l":18,"h":40},{"s":"FedBuff","t":438,"y":35.3,"l":22,"h":46},{"s":"FedBuff","t":557,"y":44.7,"l":34,"h":53},{"s":"FedBuff","t":676,"y":45.8,"l":36,"h":54},{"s":"FedBuff","t":796,"y":47.9,"l":38,"h":56},{"s":"FedBuff","t":915,"y":50.5,"l":42,"h":58},{"s":"FedBuff","t":1154,"y":51.5,"l":44,"h":59},{"s":"FedBuff","t":1392,"y":53.1,"l":46,"h":60},{"s":"FedBuff","t":1631,"y":51.5,"l":44,"h":59},{"s":"FedBuff","t":1870,"y":55.7,"l":48,"h":62},{"s":"FedBuff","t":2108,"y":53.6,"l":46,"h":61},{"s":"FedBuff","t":2347,"y":55.2,"l":48,"h":62},{"s":"FedBuff","t":2546,"y":57.8,"l":50,"h":64},{"s":"FedBuff","t":2665,"y":60.5,"l":53,"h":66},{"s":"FedBuff","t":2824,"y":55.7,"l":48,"h":63},{"s":"FedBuff","t":3063,"y":59.4,"l":52,"h":65},{"s":"FedBuff","t":3302,"y":57.8,"l":50,"h":64},{"s":"FedBuff","t":3620,"y":59.9,"l":52,"h":66},{"s":"FedBuff","t":3858,"y":58.9,"l":51,"h":65},{"s":"FedBuff","t":4177,"y":61,"l":54,"h":67},{"s":"FedBuff","t":4495,"y":60.5,"l":53,"h":67},{"s":"FedBuff","t":4734,"y":62.6,"l":55,"h":68},{"s":"FedBuff","t":4813,"y":58.4,"l":51,"h":65},
{"s":"FedCompass","t":0,"y":0,"l":0,"h":0},{"s":"FedCompass","t":100,"y":8,"l":5,"h":12},{"s":"FedCompass","t":199,"y":14,"l":8,"h":20},{"s":"FedCompass","t":318,"y":17,"l":10,"h":25},{"s":"FedCompass","t":398,"y":25.8,"l":18,"h":35},{"s":"FedCompass","t":477,"y":53.6,"l":45,"h":60},{"s":"FedCompass","t":597,"y":58.4,"l":52,"h":64},{"s":"FedCompass","t":756,"y":60.5,"l":55,"h":66},{"s":"FedCompass","t":915,"y":61.5,"l":56,"h":67},{"s":"FedCompass","t":1154,"y":63.6,"l":58,"h":69},{"s":"FedCompass","t":1392,"y":64.7,"l":59,"h":70},{"s":"FedCompass","t":1631,"y":65.7,"l":60,"h":71},{"s":"FedCompass","t":1870,"y":66.2,"l":61,"h":72},{"s":"FedCompass","t":2108,"y":67.3,"l":62,"h":73},{"s":"FedCompass","t":2220,"y":67,"l":62,"h":72.5},{"s":"FedCompass","t":2260,"y":67.5,"l":62,"h":79.5},{"s":"FedCompass","t":2300,"y":67.6,"l":62.5,"h":72.5},{"s":"FedCompass","t":2347,"y":67.8,"l":63,"h":73},{"s":"FedCompass","t":2546,"y":68.9,"l":64,"h":73.5},{"s":"FedCompass","t":2824,"y":69.9,"l":65,"h":74.5},{"s":"FedCompass","t":3222,"y":71,"l":66,"h":75},{"s":"FedCompass","t":3620,"y":71.5,"l":67,"h":75.5},{"s":"FedCompass","t":4018,"y":72,"l":68,"h":76},{"s":"FedCompass","t":4415,"y":72,"l":68,"h":76.5},{"s":"FedCompass","t":4813,"y":72.2,"l":68,"h":76},
{"s":"FedCompass+M","t":0,"y":0,"l":0,"h":0},{"s":"FedCompass+M","t":100,"y":8,"l":5,"h":12},{"s":"FedCompass+M","t":199,"y":20.6,"l":12,"h":30},{"s":"FedCompass+M","t":278,"y":37.4,"l":25,"h":55},{"s":"FedCompass+M","t":318,"y":53.1,"l":40,"h":60},{"s":"FedCompass+M","t":358,"y":35.3,"l":25,"h":48},{"s":"FedCompass+M","t":398,"y":40,"l":28,"h":52},{"s":"FedCompass+M","t":477,"y":52.1,"l":44,"h":58},{"s":"FedCompass+M","t":597,"y":56.8,"l":50,"h":62},{"s":"FedCompass+M","t":756,"y":59.4,"l":53,"h":64.5},{"s":"FedCompass+M","t":1154,"y":61.5,"l":56,"h":67},{"s":"FedCompass+M","t":1551,"y":63.6,"l":58,"h":69},{"s":"FedCompass+M","t":1949,"y":65.7,"l":60,"h":71},{"s":"FedCompass+M","t":2347,"y":67.3,"l":62,"h":72.5},{"s":"FedCompass+M","t":2426,"y":68.9,"l":64,"h":73.5},{"s":"FedCompass+M","t":3222,"y":70.4,"l":66,"h":74.5},{"s":"FedCompass+M","t":4018,"y":71.5,"l":67,"h":75.5},{"s":"FedCompass+M","t":4813,"y":72,"l":68,"h":75.5},
{"s":"FedCompass+N","t":0,"y":0,"l":0,"h":0},{"s":"FedCompass+N","t":40,"y":5.9,"l":3,"h":9},{"s":"FedCompass+N","t":119,"y":13.2,"l":9,"h":17},{"s":"FedCompass+N","t":199,"y":16.4,"l":10,"h":20},{"s":"FedCompass+N","t":318,"y":16.9,"l":8,"h":22},{"s":"FedCompass+N","t":398,"y":26.9,"l":5,"h":35},{"s":"FedCompass+N","t":438,"y":44.7,"l":32,"h":52},{"s":"FedCompass+N","t":517,"y":51,"l":44,"h":57},{"s":"FedCompass+N","t":676,"y":53.1,"l":46,"h":59},{"s":"FedCompass+N","t":835,"y":58.4,"l":51,"h":64},{"s":"FedCompass+N","t":955,"y":56.8,"l":50,"h":63},{"s":"FedCompass+N","t":1074,"y":59.4,"l":53,"h":65},{"s":"FedCompass+N","t":1194,"y":57.3,"l":50,"h":64},{"s":"FedCompass+N","t":1313,"y":60.5,"l":54,"h":66},{"s":"FedCompass+N","t":1472,"y":58.4,"l":51,"h":65},{"s":"FedCompass+N","t":1631,"y":62,"l":55,"h":67},{"s":"FedCompass+N","t":1790,"y":61,"l":54,"h":67},{"s":"FedCompass+N","t":1949,"y":63.6,"l":57,"h":69},{"s":"FedCompass+N","t":2108,"y":63.1,"l":56,"h":69},{"s":"FedCompass+N","t":2267,"y":65.7,"l":59,"h":70},{"s":"FedCompass+N","t":2426,"y":63.6,"l":57,"h":70},{"s":"FedCompass+N","t":2546,"y":62.6,"l":56,"h":69},{"s":"FedCompass+N","t":2665,"y":67.8,"l":61,"h":72},{"s":"FedCompass+N","t":2904,"y":69.4,"l":64,"h":73},{"s":"FedCompass+N","t":3063,"y":67.8,"l":62,"h":73},{"s":"FedCompass+N","t":3222,"y":71,"l":66,"h":74.5},{"s":"FedCompass+N","t":3381,"y":68.9,"l":63,"h":73.5},{"s":"FedCompass+N","t":3620,"y":69.9,"l":64,"h":74.5},{"s":"FedCompass+N","t":3858,"y":70.4,"l":65,"h":75},{"s":"FedCompass+N","t":4018,"y":69.4,"l":64,"h":74.5},{"s":"FedCompass+N","t":4256,"y":71.5,"l":66,"h":76},{"s":"FedCompass+N","t":4495,"y":72,"l":67,"h":76},{"s":"FedCompass+N","t":4813,"y":72.5,"l":67,"h":76.5},
{"s":"FedAT","t":0,"y":0,"l":0,"h":0},{"s":"FedAT","t":119,"y":20.6,"l":12,"h":28},{"s":"FedAT","t":240,"y":24,"l":15,"h":33},{"s":"FedAT","t":358,"y":26.9,"l":18,"h":36},{"s":"FedAT","t":477,"y":39.5,"l":30,"h":48},{"s":"FedAT","t":557,"y":47.9,"l":38,"h":55},{"s":"FedAT","t":676,"y":53.1,"l":44,"h":59},{"s":"FedAT","t":756,"y":51.5,"l":43,"h":58},{"s":"FedAT","t":835,"y":54.2,"l":46,"h":60},{"s":"FedAT","t":955,"y":52.5,"l":45,"h":59},{"s":"FedAT","t":1074,"y":55.5,"l":48,"h":61},{"s":"FedAT","t":1154,"y":55.2,"l":47,"h":62},{"s":"FedAT","t":1313,"y":57,"l":50,"h":63},{"s":"FedAT","t":1392,"y":55,"l":48,"h":62},{"s":"FedAT","t":1472,"y":56.8,"l":49,"h":63},{"s":"FedAT","t":1631,"y":58,"l":51,"h":64},{"s":"FedAT","t":1710,"y":56.5,"l":49,"h":63},{"s":"FedAT","t":1790,"y":58.4,"l":51,"h":64},{"s":"FedAT","t":1949,"y":60,"l":53,"h":66},{"s":"FedAT","t":2029,"y":58,"l":51,"h":64},{"s":"FedAT","t":2108,"y":59.4,"l":52,"h":65},{"s":"FedAT","t":2267,"y":61,"l":54,"h":66},{"s":"FedAT","t":2347,"y":59,"l":52,"h":65},{"s":"FedAT","t":2426,"y":60.5,"l":53,"h":66},{"s":"FedAT","t":2626,"y":62,"l":55,"h":67},{"s":"FedAT","t":2824,"y":61.5,"l":54,"h":67},{"s":"FedAT","t":3023,"y":63,"l":56,"h":68},{"s":"FedAT","t":3222,"y":62.6,"l":55,"h":68},{"s":"FedAT","t":3420,"y":61.5,"l":54,"h":67},{"s":"FedAT","t":3620,"y":63.1,"l":56,"h":68},{"s":"FedAT","t":3818,"y":64,"l":57,"h":69},{"s":"FedAT","t":4018,"y":63.6,"l":57,"h":69},{"s":"FedAT","t":4216,"y":65,"l":58,"h":70},{"s":"FedAT","t":4415,"y":64.7,"l":58,"h":70},{"s":"FedAT","t":4614,"y":63.5,"l":57,"h":69},{"s":"FedAT","t":4813,"y":64.1,"l":57,"h":70}
]
},
"hconcat": [
{
"width": 491, "height": 278,
"data": {"name": "a"},
"title": {"text": "(a) Homogeneous", "orient": "bottom"},
"layer": [
{"mark": {"type": "area", "fillOpacity": 0.2, "strokeOpacity": 0.35, "strokeWidth": 0.8},
"encoding": {
"x": {"field": "t", "type": "quantitative", "scale": {"domain": [-150, 3150], "nice": false, "zero": false}, "axis": {"values": [0,500,1000,1500,2000,2500,3000], "format": "d", "title": "Time (sec)"}},
"y": {"field": "l", "type": "quantitative", "scale": {"domain": [-3.6, 79.2], "nice": false, "zero": false}, "axis": {"values": [0,10,20,30,40,50,60,70], "title": "Accuracy"}},
"y2": {"field": "h"},
"fill": {"field": "s", "type": "nominal", "scale": {"domain": ["FedAvg","FedAvgM","FedAsync","FedBuff","FedCompass","FedCompass+M","FedCompass+N","FedAT"], "range": ["#0000ff","#008000","#ff0000","#00ffff","#ff00ff","#ffa500","#800080","#90ee90"]}, "legend": null},
"stroke": {"field": "s", "type": "nominal", "scale": {"domain": ["FedAvg","FedAvgM","FedAsync","FedBuff","FedCompass","FedCompass+M","FedCompass+N","FedAT"], "range": ["#0000ff","#008000","#ff0000","#00ffff","#ff00ff","#ffa500","#800080","#90ee90"]}, "legend": null}
}},
{"mark": {"type": "line", "strokeWidth": 2},
"encoding": {
"x": {"field": "t", "type": "quantitative", "axis": {"values": [0,500,1000,1500,2000,2500,3000], "format": "d", "title": "Time (sec)"}},
"y": {"field": "y", "type": "quantitative", "axis": {"values": [0,10,20,30,40,50,60,70], "title": "Accuracy"}},
"color": {"field": "s", "type": "nominal", "scale": {"domain": ["FedAvg","FedAvgM","FedAsync","FedBuff","FedCompass","FedCompass+M","FedCompass+N","FedAT"], "range": ["#0000ff","#008000","#ff0000","#00ffff","#ff00ff","#ffa500","#800080","#90ee90"]}, "legend": {"title": null}}
}}
]
},
{
"width": 491, "height": 278,
"data": {"name": "b"},
"title": {"text": "(b) Normal", "orient": "bottom"},
"layer": [
{"mark": {"type": "area", "fillOpacity": 0.2, "strokeOpacity": 0.35, "strokeWidth": 0.8},
"encoding": {
"x": {"field": "t", "type": "quantitative", "scale": {"domain": [-217, 4564], "nice": false, "zero": false}, "axis": {"values": [0,1000,2000,3000,4000], "format": "d", "title": "Time (sec)"}},
"y": {"field": "l", "type": "quantitative", "scale": {"domain": [-3.65, 80.9], "nice": false, "zero": false}, "axis": {"values": [0,10,20,30,40,50,60,70,80], "title": "Accuracy"}},
"y2": {"field": "h"},
"fill": {"field": "s", "type": "nominal", "scale": {"domain": ["FedAvg","FedAvgM","FedAsync","FedBuff","FedCompass","FedCompass+M","FedCompass+N","FedAT"], "range": ["#0000ff","#008000","#ff0000","#00ffff","#ff00ff","#ffa500","#800080","#90ee90"]}, "legend": null},
"stroke": {"field": "s", "type": "nominal", "scale": {"domain": ["FedAvg","FedAvgM","FedAsync","FedBuff","FedCompass","FedCompass+M","FedCompass+N","FedAT"], "range": ["#0000ff","#008000","#ff0000","#00ffff","#ff00ff","#ffa500","#800080","#90ee90"]}, "legend": null}
}},
{"mark": {"type": "line", "strokeWidth": 2},
"encoding": {
"x": {"field": "t", "type": "quantitative", "axis": {"values": [0,1000,2000,3000,4000], "format": "d", "title": "Time (sec)"}},
"y": {"field": "y", "type": "quantitative", "axis": {"values": [0,10,20,30,40,50,60,70,80], "title": "Accuracy"}},
"color": {"field": "s", "type": "nominal", "scale": {"domain": ["FedAvg","FedAvgM","FedAsync","FedBuff","FedCompass","FedCompass+M","FedCompass+N","FedAT"], "range": ["#0000ff","#008000","#ff0000","#00ffff","#ff00ff","#ffa500","#800080","#90ee90"]}, "legend": {"title": null}}
}}
]
},
{
"width": 491, "height": 278,
"data": {"name": "c"},
"title": {"text": "(c) Exponential", "orient": "bottom"},
"layer": [
{"mark": {"type": "area", "fillOpacity": 0.2, "strokeOpacity": 0.35, "strokeWidth": 0.8},
"encoding": {
"x": {"field": "t", "type": "quantitative", "scale": {"domain": [-532, 11190], "nice": false, "zero": false}, "axis": {"values": [0,2000,4000,6000,8000,10000], "format": "d", "title": "Time (sec)"}},
"y": {"field": "l", "type": "quantitative", "scale": {"domain": [-3.8, 83.8], "nice": false, "zero": false}, "axis": {"values": [0,10,20,30,40,50,60,70,80], "title": "Accuracy"}},
"y2": {"field": "h"},
"fill": {"field": "s", "type": "nominal", "scale": {"domain": ["FedAvg","FedAvgM","FedAsync","FedBuff","FedCompass","FedCompass+M","FedCompass+N","FedAT"], "range": ["#0000ff","#008000","#ff0000","#00ffff","#ff00ff","#ffa500","#800080","#90ee90"]}, "legend": null},
"stroke": {"field": "s", "type": "nominal", "scale": {"domain": ["FedAvg","FedAvgM","FedAsync","FedBuff","FedCompass","FedCompass+M","FedCompass+N","FedAT"], "range": ["#0000ff","#008000","#ff0000","#00ffff","#ff00ff","#ffa500","#800080","#90ee90"]}, "legend": null}
}},
{"mark": {"type": "line", "strokeWidth": 2},
"encoding": {
"x": {"field": "t", "type": "quantitative", "axis": {"values": [0,2000,4000,6000,8000,10000], "format": "d", "title": "Time (sec)"}},
"y": {"field": "y", "type": "quantitative", "axis": {"values": [0,10,20,30,40,50,60,70,80], "title": "Accuracy"}},
"color": {"field": "s", "type": "nominal", "scale": {"domain": ["FedAvg","FedAvgM","FedAsync","FedBuff","FedCompass","FedCompass+M","FedCompass+N","FedAT"], "range": ["#0000ff","#008000","#ff0000","#00ffff","#ff00ff","#ffa500","#800080","#90ee90"]}, "legend": {"title": null}}
}}
]
}
],
"resolve": {"scale": {"color": "independent"}, "legend": {"color": "independent"}},
"config": {
"font": "DejaVu Sans",
"view": {"stroke": "black", "strokeWidth": 1},
"axis": {"grid": false, "domainColor": "black", "domainWidth": 1, "tickColor": "black", "tickWidth": 1, "tickSize": 4.7, "labelFontSize": 12, "labelColor": "black", "labelPadding": 3.5, "labelFlush": false, "titleFontSize": 15, "titleFontWeight": "normal", "titleColor": "black", "labelFont": "DejaVu Sans", "titleFont": "DejaVu Sans"},
"axisY": {"titlePadding": 9},
"axisX": {"titlePadding": 3},
"legend": {"orient": "bottom-right", "offset": 6, "padding": 4, "fillColor": "rgba(255,255,255,0.85)", "strokeColor": "#cccccc", "cornerRadius": 3, "symbolType": "stroke", "symbolSize": 441, "symbolStrokeWidth": 2, "labelFontSize": 13, "labelFont": "DejaVu Sans", "labelColor": "black", "labelOffset": 14, "rowPadding": 0},
"title": {"fontSize": 18, "fontWeight": "normal", "color": "black", "font": "DejaVu Sans", "offset": 0}
}
}
